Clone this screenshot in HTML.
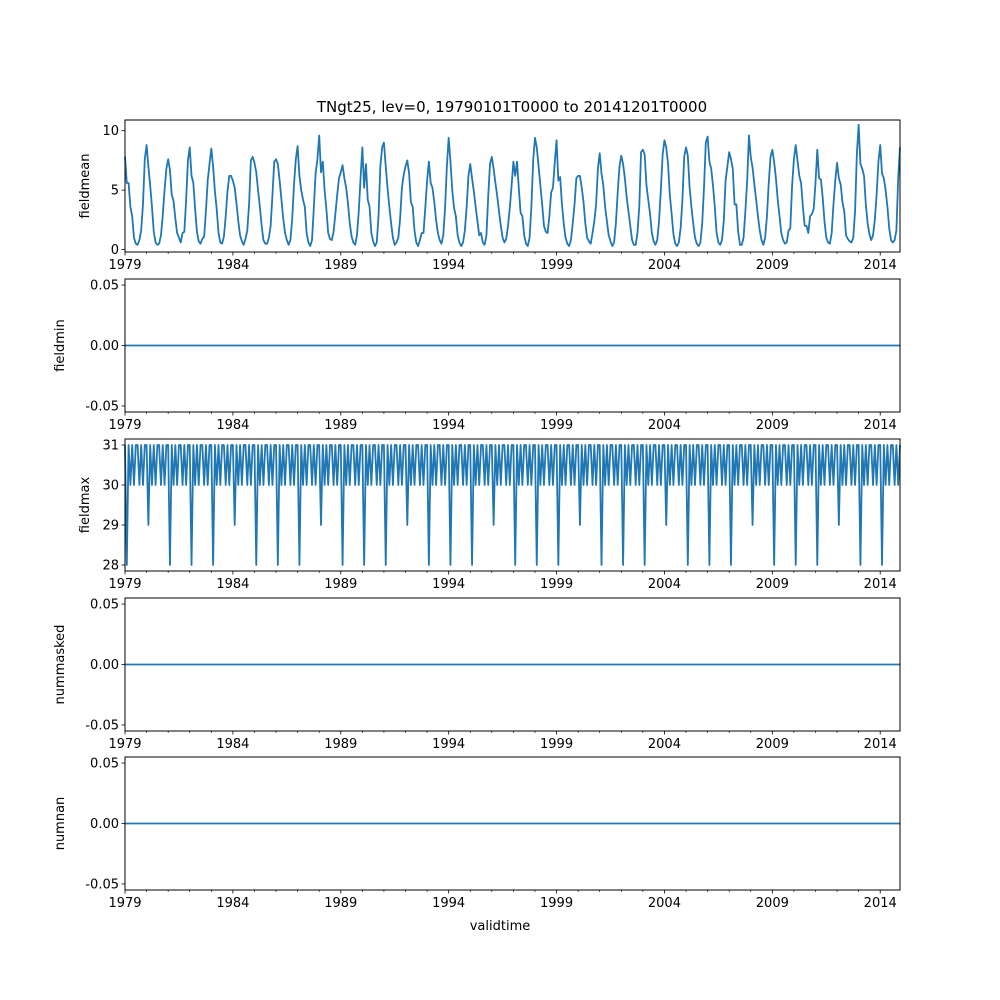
<!DOCTYPE html>
<html><head><meta charset="utf-8">
<style>
body{margin:0;background:#fff;}
svg{display:block;font-family:"DejaVu Sans","Liberation Sans",sans-serif;}
</style></head>
<body>
<svg id="fig" width="1000" height="1000" viewBox="0 0 1000 1000">
<text x="512" y="112" font-size="15" text-anchor="middle">TNgt25, lev=0, 19790101T0000 to 20141201T0000</text>
<text x="500" y="930" font-size="13" text-anchor="middle">validtime</text>
</svg>
<script>
const fieldmean = [
7.8,5.6,5.6,3.6,2.8,1.0,0.5,0.4,0.8,1.6,3.8,7.6,
8.8,7.0,5.4,3.6,1.5,0.6,0.4,0.5,1.2,2.9,5.0,6.8,
7.6,6.7,4.6,4.1,2.6,1.4,1.0,0.6,1.4,1.5,4.2,7.5,
8.6,6.2,5.6,3.4,1.5,0.7,0.5,0.9,1.1,3.2,5.8,7.2,
8.5,7.0,4.9,3.4,1.4,0.6,0.5,1.1,2.8,4.9,6.2,6.2,
5.8,5.2,3.9,2.4,1.2,0.7,0.4,0.9,1.6,3.8,7.5,7.8,
7.3,6.5,5.0,3.6,2.0,0.8,0.5,0.5,1.0,2.0,4.6,7.4,
7.6,7.2,5.8,4.2,2.6,1.4,0.8,0.4,0.8,2.6,5.5,7.6,
8.7,6.2,5.0,4.2,3.6,1.4,0.6,0.3,0.8,3.5,6.4,7.6,
9.6,6.5,7.4,5.0,3.4,1.4,0.9,0.8,1.5,3.0,4.6,6.0,
6.5,7.1,6.0,5.2,3.9,2.2,1.1,0.6,0.4,1.2,3.2,6.0,
8.6,5.2,7.2,4.2,3.6,1.4,0.7,0.3,0.6,2.8,7.0,8.6,
9.0,7.0,5.2,3.6,2.2,1.0,0.4,0.6,1.0,2.6,5.2,6.3,
7.0,7.5,6.4,4.0,3.6,1.6,0.6,0.3,0.8,1.4,1.4,3.5,
5.8,7.4,5.6,5.2,4.0,2.5,1.4,0.8,0.5,1.2,3.5,7.0,
9.4,7.4,5.0,3.5,2.8,1.2,0.6,0.3,0.6,1.6,3.6,6.2,
7.2,6.0,4.9,3.6,2.4,1.2,1.4,0.6,0.4,1.2,4.5,7.2,
7.8,6.8,5.6,4.5,3.2,2.0,1.0,0.6,0.9,2.0,3.5,5.4,
7.4,6.2,7.4,5.2,3.1,2.8,1.2,0.5,0.3,1.0,3.6,7.5,
9.4,8.6,7.0,5.4,3.8,2.0,1.5,1.4,2.8,4.8,5.2,7.3,
9.2,5.8,6.1,3.8,2.2,1.0,0.5,0.3,0.8,2.2,3.8,6.0,
6.2,6.2,5.2,4.0,2.2,1.0,0.7,0.5,1.4,2.4,3.8,6.8,
8.1,6.4,5.4,3.6,2.4,1.2,0.7,0.3,0.6,2.2,4.8,7.0,
7.9,7.2,6.0,4.4,3.2,2.0,0.8,0.4,0.4,1.4,3.6,8.2,
8.4,8.0,5.4,4.2,3.0,1.4,0.7,0.4,0.8,2.4,5.0,8.0,
9.2,8.6,7.2,4.6,3.0,1.3,0.5,0.3,0.6,1.8,4.2,7.8,
8.6,7.9,5.2,3.6,2.2,1.0,0.5,0.3,0.6,2.2,5.2,9.0,
9.5,7.4,6.8,5.4,3.6,1.4,0.6,0.4,0.8,2.4,5.8,7.0,
8.2,7.6,6.8,3.8,3.8,1.5,0.4,0.4,1.0,3.2,5.8,9.6,
7.8,6.9,5.5,4.2,2.8,1.6,0.8,0.4,1.0,2.8,5.6,7.8,
8.4,7.4,6.0,4.2,2.8,1.4,0.8,0.5,0.6,1.6,1.8,5.4,
7.6,8.8,7.5,6.2,5.6,3.6,2.0,2.0,1.4,2.8,3.0,3.4,
5.6,8.4,6.0,5.9,4.4,2.4,1.0,0.6,0.5,1.4,3.8,5.8,
7.3,6.0,5.5,4.0,3.2,1.2,0.9,0.7,0.6,1.0,3.2,8.0,
10.5,7.2,6.8,6.2,3.8,2.2,1.3,0.8,1.2,2.5,4.6,7.4,
8.8,6.4,6.0,5.0,3.6,1.8,0.8,0.6,0.8,1.6,6.0,8.6];
const fieldmax = [
31,28,31,30,31,30,31,31,30,31,30,31, 31,29,31,30,31,30,31,31,30,31,30,31,
31,28,31,30,31,30,31,31,30,31,30,31, 31,28,31,30,31,30,31,31,30,31,30,31,
31,28,31,30,31,30,31,31,30,31,30,31, 31,29,31,30,31,30,31,31,30,31,30,31,
31,28,31,30,31,30,31,31,30,31,30,31, 31,28,31,30,31,30,31,31,30,31,30,31,
31,28,31,30,31,30,31,31,30,31,30,31, 31,29,31,30,31,30,31,31,30,31,30,31,
31,28,31,30,31,30,31,31,30,31,30,31, 31,28,31,30,31,30,31,31,30,31,30,31,
31,28,31,30,31,30,31,31,30,31,30,31, 31,29,31,30,31,30,31,31,30,31,30,31,
31,28,31,30,31,30,31,31,30,31,30,31, 31,28,31,30,31,30,31,31,30,31,30,31,
31,28,31,30,31,30,31,31,30,31,30,31, 31,29,31,30,31,30,31,31,30,31,30,31,
31,28,31,30,31,30,31,31,30,31,30,31, 31,28,31,30,31,30,31,31,30,31,30,31,
31,28,31,30,31,30,31,31,30,31,30,31, 31,29,31,30,31,30,31,31,30,31,30,31,
31,28,31,30,31,30,31,31,30,31,30,31, 31,28,31,30,31,30,31,31,30,31,30,31,
31,28,31,30,31,30,31,31,30,31,30,31, 31,29,31,30,31,30,31,31,30,31,30,31,
31,28,31,30,31,30,31,31,30,31,30,31, 31,28,31,30,31,30,31,31,30,31,30,31,
31,28,31,30,31,30,31,31,30,31,30,31, 31,29,31,30,31,30,31,31,30,31,30,31,
31,28,31,30,31,30,31,31,30,31,30,31, 31,28,31,30,31,30,31,31,30,31,30,31,
31,28,31,30,31,30,31,31,30,31,30,31, 31,29,31,30,31,30,31,31,30,31,30,31,
31,28,31,30,31,30,31,31,30,31,30,31, 31,28,31,30,31,30,31,31,30,31,30,31];
const fieldminValue = 0;
const nummaskedValue = 0;
const numnanValue = 0;
const startYear = 1979;
const xTickLabels = ["1979","1984","1989","1994","1999","2004","2009","2014"];
const meanTicks = [0,5,10];
const maxTicks = [28,29,30,31];
const zeroTicks = [-0.05,0,0.05];

const NS = "http://www.w3.org/2000/svg";
const svg = document.getElementById("fig");
const X0 = 125, X1 = 900;
const tMin = 1979, tMax = 2014 + 11/12;
function xs(t){ return X0 + (t - tMin) / (tMax - tMin) * (X1 - X0); }
function mk(tag, attrs, parent){ const e = document.createElementNS(NS, tag); for (const k in attrs) e.setAttribute(k, attrs[k]); (parent||svg).appendChild(e); return e; }

const panels = [
 {name:"fieldmean", top:120, bot:252, ymin:-0.2, ymax:10.9, ticks:meanTicks, fmt:v=>String(v), series:fieldmean},
 {name:"fieldmin", top:279, bot:412, ymin:-0.055, ymax:0.055, ticks:zeroTicks, fmt:v=>v.toFixed(2), series:fieldmean.map(()=>fieldminValue)},
 {name:"fieldmax", top:439, bot:571, ymin:27.85, ymax:31.15, ticks:maxTicks, fmt:v=>String(v), series:fieldmax},
 {name:"nummasked", top:598, bot:731, ymin:-0.055, ymax:0.055, ticks:zeroTicks, fmt:v=>v.toFixed(2), series:fieldmean.map(()=>nummaskedValue)},
 {name:"numnan", top:757, bot:890, ymin:-0.055, ymax:0.055, ticks:zeroTicks, fmt:v=>v.toFixed(2), series:fieldmean.map(()=>numnanValue)}
];

panels.forEach(p => {
  const g = mk("g", {});
  
  
  const ys = v => p.bot - (v - p.ymin) / (p.ymax - p.ymin) * (p.bot - p.top);
  // series
  let d = "";
  p.series.forEach((v, i) => { const t = startYear + i/12; d += (i ? "L" : "M") + xs(t).toFixed(2) + "," + ys(v).toFixed(2); });
  const line = mk("path", {d:d, fill:"none", stroke:"#1f77b4", "stroke-width":"1.8", "stroke-linejoin":"round"}, g);
  
  
  // frame
  const fr = mk("rect", {x:X0, y:p.top, width:X1-X0, height:p.bot-p.top, fill:"none", stroke:"#000", "stroke-width":"1"}, g);
  
  
  // y ticks
  p.ticks.forEach(v => {
    const y = ys(v);
    mk("line", {x1:X0-3.5, x2:X0, y1:y, y2:y, stroke:"#000", "stroke-width":"0.8"}, g);
    const tx = mk("text", {x:X0-6, y:y+4.5, "font-size":"13", "text-anchor":"end"}, g);
    tx.textContent = p.fmt(v);
    
    
  });
  // x ticks
  for (let yr = 1979; yr <= 2014; yr++) {
    const x = xs(yr);
    const major = (yr - 1979) % 5 === 0;
    mk("line", {x1:x, x2:x, y1:p.bot, y2:p.bot + (major ? 3.5 : 2), stroke:"#000", "stroke-width":major ? "0.8" : "0.6"}, g);
  }
  xTickLabels.forEach(lbl => {
    const tx = mk("text", {x:xs(+lbl), y:p.bot+17, "font-size":"13", "text-anchor":"middle"}, g);
    tx.textContent = lbl;
    
    
  });
  // y label
  const cy = (p.top + p.bot) / 2;
  const yl = mk("text", {x:0, y:0, "font-size":"13", "text-anchor":"middle", transform:`translate(${p.name==="fieldmean"||p.name==="fieldmax"?89:64},${cy}) rotate(-90)`}, g);
  yl.textContent = p.name;
  
  
});
</script>
</body></html>
